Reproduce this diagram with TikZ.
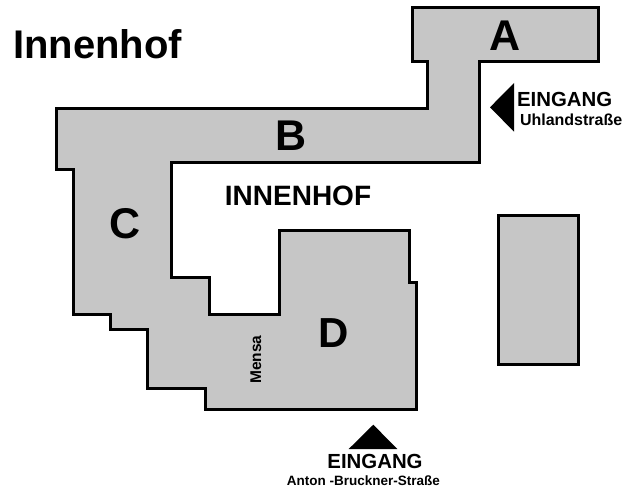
\documentclass[tikz,border=0pt]{standalone}
\usepackage{fontspec}
\setmainfont{Liberation Sans}[BoldFont={Liberation Sans Bold}]
\definecolor{hausgrau}{HTML}{C6C6C6}
\tikzset{
  haus/.style={draw=black,fill=hausgrau,line width=3pt,line join=miter},
  pfeil/.style={fill=black,draw=none},
  lab/.style={inner sep=0pt,outer sep=0pt,anchor=base,text=black},
}
\newcommand{\fs}[1]{\fontsize{#1}{#1}\selectfont\bfseries}
\begin{document}
\begin{tikzpicture}[x=1pt,y=-1pt]
\useasboundingbox (0,0) rectangle (623,489);
\fill[white] (0,0) rectangle (623,489);
\draw[haus] (412,8) -- (598,8) -- (598,61.7) -- (479,61.7) -- (479,162.5) -- (171,162.5)
  -- (171,277.7) -- (209.7,277.7) -- (209.7,314) -- (279,314) -- (279,230.7) -- (409,230.7)
  -- (409,282) -- (416.3,282) -- (416.3,409) -- (205.3,409) -- (205.3,388.3) -- (147.7,388.3)
  -- (147.7,329.7) -- (110,329.7) -- (110,314.7) -- (73.9,314.7) -- (73.9,169.3) -- (56.7,169.3)
  -- (56.7,108.3) -- (427.7,108.3) -- (427.7,61.7) -- (412,61.7) -- cycle;
\draw[haus] (498.7,215) rectangle (578,364);
\fill[pfeil] (490,107.3) -- (514,83) -- (514,131.7) -- cycle;
\fill[pfeil] (373.3,424.7) -- (397.3,449) -- (348.7,449) -- cycle;
\node[lab,anchor=base west] (titel) at (13,59) {\fs{40}Innenhof};
\node[lab] (a) at (505,51) {\fs{43}A};
\node[lab] (b) at (291,151) {\fs{43}B};
\node[lab] (c) at (125,238.5) {\fs{43}C};
\node[lab] (d) at (333.5,347.5) {\fs{42}D};
\node[lab] (hof) at (298,205.7) {\fs{28}INNENHOF};
\node[lab,anchor=base west] (e1) at (517,106.7) {\fs{20.4}EINGANG};
\node[lab,anchor=base west] (u) at (520,126) {\fs{16}Uhlandstraße};
\node[lab] (e2) at (375,468) {\fs{20.4}EINGANG};
\node[lab] (anton) at (363.5,485.7) {\fs{13.5}Anton -Bruckner-Straße};
\node[lab,rotate=90,anchor=base] (mensa) at (261,359.5) {\fs{15.5}Mensa};
\end{tikzpicture}
\end{document}
